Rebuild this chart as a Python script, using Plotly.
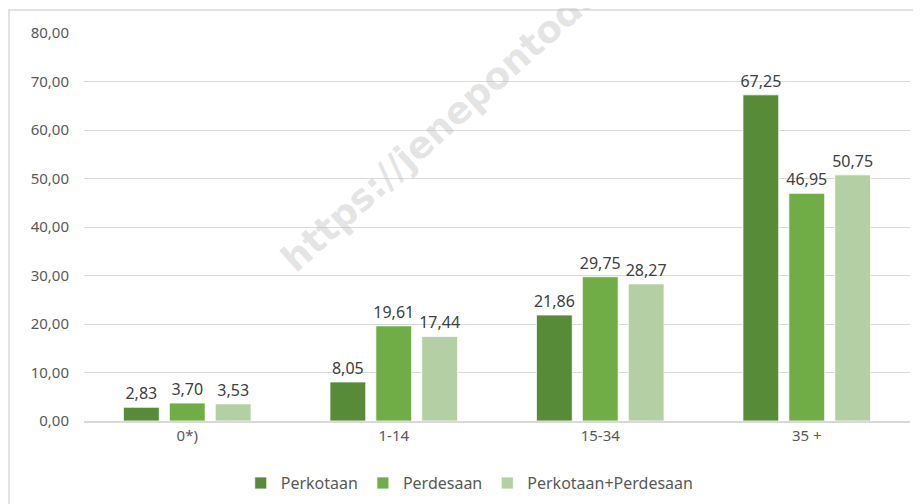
import plotly.graph_objects as go

categories = ["0*)", "1-14", "15-34", "35 +"]
perkotaan = [2.83, 8.05, 21.86, 67.25]
perdesaan = [3.70, 19.61, 29.75, 46.95]
gabungan = [3.53, 17.44, 28.27, 50.75]
y_ticks = [0, 10, 20, 30, 40, 50, 60, 70, 80]

series = [
    ("Perkotaan", perkotaan, "#588B38"),
    ("Perdesaan", perdesaan, "#70AD47"),
    ("Perkotaan+Perdesaan", gabungan, "#B4CFA3"),
]

fig = go.Figure()
for name, vals, color in series:
    fig.add_trace(go.Bar(
        x=categories, y=vals, name=name,
        marker=dict(color=color, line=dict(color="white", width=0.8)),
        texttemplate="%{y:.2f}", textposition="outside", constraintext="none",
        textfont=dict(family="Noto Sans", size=16, color="#404040"),
        cliponaxis=False,
    ))

# watermark
fig.add_annotation(
    text="https://jenepontoday.com", xref="paper", yref="paper",
    x=0.226, y=0.355, xanchor="left", yanchor="bottom",
    showarrow=False, textangle=-42,
    font=dict(family="DejaVu Sans", size=37, weight="bold", color="rgba(185,185,185,0.38)"),
)

# chart border
fig.add_shape(type="rect", xref="paper", yref="paper",
              x0=-0.0908, x1=1.019, y0=-0.25, y1=1.059,
              line=dict(color="#D9D9D9", width=1.5), layer="below")

fig.update_layout(
    width=921, height=504,
    margin=dict(l=76, r=19, t=25, b=91, autoexpand=False),
    paper_bgcolor="white", plot_bgcolor="white",
    separators=",.",
    barmode="group", bargap=0.333, bargroupgap=0.22,
    font=dict(family="Noto Sans", size=15, color="#595959"),
    showlegend=True,
    legend=dict(orientation="h", x=0.467, xanchor="center", y=-0.16, yanchor="middle",
                font=dict(size=16, color="#595959"), itemwidth=30, traceorder="normal"),
    xaxis=dict(showgrid=False, showline=True, linecolor="#D9D9D9", linewidth=1.5,
               tickfont=dict(size=15, color="#595959"), ticks=""),
    yaxis=dict(range=[0, 80], tickvals=y_ticks, tickformat=".2f",
               showgrid=True, gridcolor="#D9D9D9", gridwidth=1.2,
               zeroline=False, showline=False, ticks="", ticklabelstandoff=14,
               tickfont=dict(size=15, color="#595959")),
)

fig.write_html("out.html")
